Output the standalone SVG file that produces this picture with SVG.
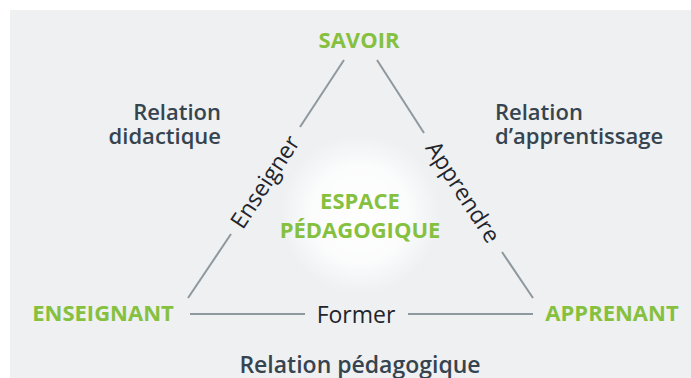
<svg xmlns="http://www.w3.org/2000/svg" width="691" height="378" viewBox="0 0 691 378">
<defs>
<style>
.g{font-family:"Open Sans","Noto Sans",sans-serif;font-weight:700;fill:#86c03f;font-size:22px;text-anchor:middle}
.d{font-family:"Open Sans","Noto Sans",sans-serif;font-weight:600;fill:#36444f;font-size:22px}
.v{font-family:"Open Sans","Noto Sans",sans-serif;font-weight:400;fill:#1f252b;font-size:23px;text-anchor:middle}
.ln{stroke:#8e989f;stroke-width:2;fill:none}
</style>
<radialGradient id="glow" cx="0.5" cy="0.5" r="0.5">
<stop offset="0" stop-color="#ffffff" stop-opacity="1"/>
<stop offset="0.6" stop-color="#ffffff" stop-opacity="0.8"/>
<stop offset="1" stop-color="#ffffff" stop-opacity="0"/>
</radialGradient>
</defs>
<rect x="0" y="0" width="691" height="378" fill="#ffffff"/>
<rect x="10" y="10" width="681" height="368" fill="#eef0f2"/>
<circle cx="360" cy="214" r="80" fill="url(#glow)"/>
<g id="connectors">
<line class="ln" x1="344" y1="60" x2="300" y2="127"/>
<line class="ln" x1="231" y1="234" x2="188" y2="298"/>
<line class="ln" x1="377" y1="60" x2="424" y2="133"/>
<line class="ln" x1="502" y1="252" x2="533" y2="298"/>
<line class="ln" x1="190" y1="314" x2="305" y2="314"/>
<line class="ln" x1="408" y1="314" x2="533" y2="314"/>
<text class="v" transform="translate(265,182) rotate(-56.8)" dy="8">Enseigner</text>
<text class="v" transform="translate(463,192) rotate(56.8)" dy="8">Apprendre</text>
<text class="v" x="356" y="323">Former</text>
</g>
<g id="savoir"><text class="g" x="359" y="48">SAVOIR</text></g>
<g id="enseignant"><text class="g" x="103" y="321">ENSEIGNANT</text></g>
<g id="apprenant"><text class="g" x="612" y="321">APPRENANT</text></g>
<g id="espace"><text class="g" x="360" y="209">ESPACE</text><text class="g" x="360" y="238">PÉDAGOGIQUE</text></g>
<g id="rel-didactique"><text class="d" x="221" y="120" text-anchor="end">Relation</text><text class="d" x="221" y="144" text-anchor="end">didactique</text></g>
<g id="rel-apprentissage"><text class="d" x="495" y="120">Relation</text><text class="d" x="495" y="144">d’apprentissage</text></g>
<g id="rel-pedagogique"><text class="d" x="360" y="373" text-anchor="middle" style="font-size:23px">Relation pédagogique</text></g>
</svg>
